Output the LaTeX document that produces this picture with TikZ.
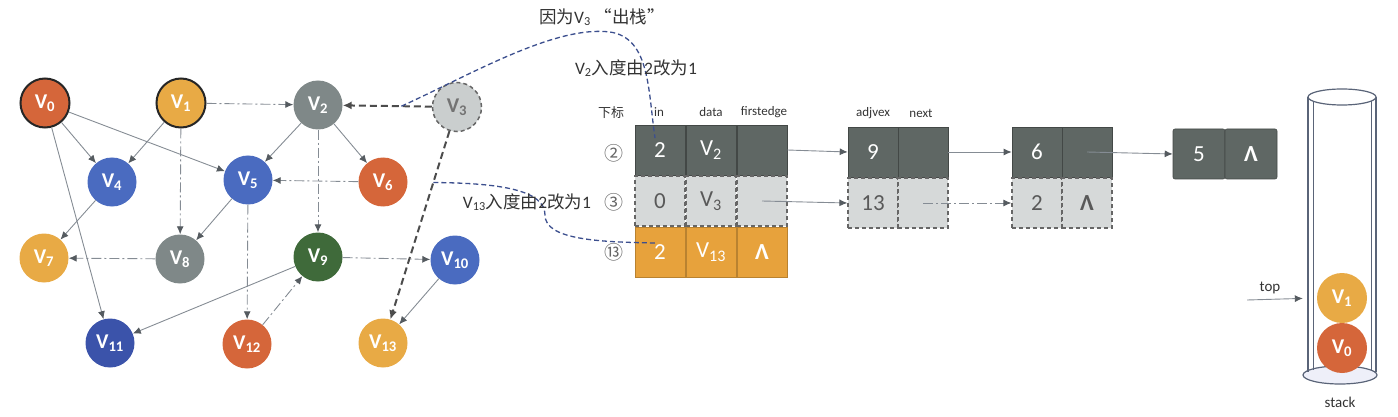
\documentclass[tikz,border=0pt]{standalone}
\usepackage{fontspec}
\setmainfont{Carlito}
\newfontfamily\cjk{Noto Sans CJK SC}
\usetikzlibrary{arrows.meta,calc}
\definecolor{vorange}{HTML}{D5663A}
\definecolor{vyellow}{HTML}{E8AA45}
\definecolor{vgray}{HTML}{7F8888}
\definecolor{vblue}{HTML}{4A6BC0}
\definecolor{vdblue}{HTML}{3B53AA}
\definecolor{vgreen}{HTML}{3F6A3A}
\definecolor{vlight}{HTML}{CACECE}
\definecolor{edgec}{HTML}{858C94}
\definecolor{tipc}{HTML}{555B60}
\definecolor{celldark}{HTML}{5F6764}
\definecolor{celllight}{HTML}{D6D9D9}
\definecolor{cellorange}{HTML}{E7A23C}
\definecolor{annot}{HTML}{3C4F8E}
\definecolor{txt}{HTML}{333333}
\definecolor{tube}{HTML}{5A6478}
\newcommand{\vlab}[1]{V\textsubscript{#1}}
\newcommand{\nullmark}{\textbf{Λ}}
\begin{document}
\begin{tikzpicture}[x=1pt,y=-1pt,
  vtx/.style={circle, minimum size=49pt, inner sep=0pt, text=white,
    font=\fontsize{21}{21}\selectfont\bfseries},
  edge/.style={draw=edgec, line width=0.9pt, -{Latex[length=8pt,width=7pt,color=tipc]}},
  dd/.style={dash pattern=on 10pt off 3pt on 2pt off 3pt},
  tdash/.style={draw=black!70, line width=2pt, dash pattern=on 7pt off 4pt,
    -{Latex[length=9pt,width=8pt]}},
  annotline/.style={draw=annot, line width=1.3pt, dash pattern=on 5pt off 3pt},
  cell/.style={rectangle, minimum width=50pt, minimum height=50pt, inner sep=0pt,
    font=\fontsize{23}{23}\selectfont},
  darkcell/.style={cell, fill=celldark, draw=celldark!70!black, line width=0.6pt, text=white},
  lightcell/.style={cell, fill=celllight, draw=black!60, line width=1.3pt,
    dash pattern=on 4pt off 3pt, text=black!65},
  orcell/.style={cell, fill=cellorange, draw=cellorange!80!black, line width=0.6pt, text=white},
  hdr/.style={font=\fontsize{13}{13}\selectfont, text=txt},
  lbl/.style={font=\fontsize{17.5}{17.5}\selectfont, text=txt},
  circnum/.style={font=\cjk\fontsize{19}{19}\selectfont, text=black!60}
]
\useasboundingbox (0,0) rectangle (1398,417);

% ---------- graph vertices ----------
\node[vtx, fill=vorange, draw=black!85, line width=2pt] (v0) at (45,103) {\vlab{0}};
\node[vtx, fill=vyellow, draw=black!85, line width=2pt] (v1) at (181,103) {\vlab{1}};
\node[vtx, fill=vgray] (v2) at (318,105) {\vlab{2}};
\node[vtx, fill=vlight, draw=black!60, dash pattern=on 4pt off 3pt, line width=1.5pt, text=black!55] (v3) at (457,107) {\vlab{3}};
\node[vtx, fill=vblue] (v4) at (112,182) {\vlab{4}};
\node[vtx, fill=vblue] (v5) at (248,180) {\vlab{5}};
\node[vtx, fill=vorange] (v6) at (383,182) {\vlab{6}};
\node[vtx, fill=vyellow] (v7) at (44,258) {\vlab{7}};
\node[vtx, fill=vgray] (v8) at (180,259) {\vlab{8}};
\node[vtx, fill=vgreen] (v9) at (318,257) {\vlab{9}};
\node[vtx, fill=vblue] (v10) at (455,260) {\vlab{10}};
\node[vtx, fill=vdblue] (v11) at (110,343) {\vlab{11}};
\node[vtx, fill=vorange] (v12) at (247,344) {\vlab{12}};
\node[vtx, fill=vyellow] (v13) at (383,343) {\vlab{13}};

% ---------- graph edges ----------
\draw[edge] (v0) -- (v4);
\draw[edge] (v0) -- (v5);
\draw[edge] (v0) -- (v11);
\draw[edge] (v1) -- (v4);
\draw[edge, dd] (v1) -- (v8);
\draw[edge, dd] (v1) -- (v2);
\draw[edge] (v2) -- (v5);
\draw[edge] (v2) -- (v6);
\draw[edge, dd] (v2) -- (v9);
\draw[edge] (v4) -- (v7);
\draw[edge] (v5) -- (v8);
\draw[edge, dd] (v5) -- (v12);
\draw[edge, dd] (v6) -- (v5);
\draw[edge, dd] (v8) -- (v7);
\draw[edge, dd] (v9) -- (v10);
\draw[edge] (v9) -- (v11);
\draw[edge] (v10) -- (v13);
\draw[edge, dd] (v12) -- (v9);
\draw[tdash] (v3) -- (v2);
\draw[tdash] (v3) -- (v13);

% ---------- vertex table ----------
\node[hdr] (h0) at (611,113) {\cjk 下标};
\node[hdr] (h1) at (659,112) {in};
\node[hdr] (h2) at (711,112) {data};
\node[hdr] (h3) at (764,112) {firstedge};

\node[darkcell] (in1) at (660,150) {2};
\node[darkcell] (da1) at (711,150) {\vlab{2}};
\node[darkcell] (fe1) at (762,150) {};
\node[orcell] (in3) at (660,252) {2};
\node[orcell] (da3) at (711,252) {\vlab{13}};
\node[orcell] (fe3) at (762,252) {\nullmark};
\node[lightcell] (in2) at (660,201) {0};
\node[lightcell] (da2) at (711,201) {\vlab{3}};
\node[lightcell] (fe2) at (762,201) {};

\node[circnum] (r1) at (614,153) {②};
\node[circnum] (r2) at (614,202) {③};
\node[circnum] (r3) at (614,252) {⑬};

% ---------- edge lists ----------
\node[hdr] (h4) at (873,113) {adjvex};
\node[hdr] (h5) at (921,113) {next};

\node[darkcell] (n9) at (873,152) {9};
\node[darkcell] (n9x) at (923,152) {};
\node[lightcell] (n13) at (873,203) {13};
\node[lightcell] (n13x) at (923,203) {};
\node[darkcell] (n6) at (1037,152) {6};
\node[darkcell] (n6x) at (1087,152) {};
\node[lightcell] (n2) at (1037,203) {2};
\node[lightcell] (n2x) at (1087,203) {\nullmark};
\node[darkcell, minimum width=52pt, rounded corners=2pt] (n5) at (1199,154) {5};
\node[darkcell, minimum width=52pt, rounded corners=2pt] (n5x) at (1251,154) {\nullmark};

\draw[edge] (fe1.east) -- (n9.west);
\draw[edge] (fe2.center) -- (n13.west);
\draw[edge] (n9x.east) -- (n6.west);
\draw[edge, dd] (n13x.center) -- (n2.west);
\draw[edge] (n6x.center) -- (n5.west);

% ---------- annotations ----------
\coordinate (br1) at ($(v3)!0.4!(v2)$);
\coordinate (br2) at ($(v3)!0.32!(v13)$);
\coordinate (end1) at (655,138);
\coordinate (end2) at (655,243);
\draw[annotline] (br1) .. controls (470,75) and (555,25) .. (610,32)
  .. controls (650,38) and (648,90) .. (end1);
\draw[annotline] (br2) .. controls (500,183) and (545,190) .. (545,215)
  .. controls (545,240) and (600,242) .. (end2);

\node[lbl] (t1) at (602,17) {{\cjk 因为}\vlab{3} {\cjk “出栈”}};
\node[lbl] (t2) at (636,68) {\vlab{2}{\cjk 入度由}2{\cjk 改为}1};
\node[lbl] (t3) at (527,202) {\vlab{13}{\cjk 入度由}2{\cjk 改为}1};

% ---------- stack ----------
\fill[celllight!80!blue!20] (1340,375) ellipse [x radius=37, y radius=9];
\draw[tube, line width=1.2pt] (1340,375) ellipse [x radius=37, y radius=9];
\draw[tube, line width=1.2pt] (1308,97) -- (1308,372);
\draw[tube, line width=0.8pt] (1313,100) -- (1313,370);
\draw[tube, line width=1.2pt] (1376,97) -- (1376,372);
\draw[tube, line width=0.8pt] (1371,100) -- (1371,370);
\draw[tube, line width=1.2pt, fill=white] (1342,97) ellipse [x radius=34, y radius=8];
\node[vtx, fill=vyellow, minimum size=50pt] (s1) at (1342,298) {\vlab{1}};
\node[vtx, fill=vorange, minimum size=50pt] (s0) at (1342,348) {\vlab{0}};
\node[hdr, font=\fontsize{15}{15}\selectfont] (toplbl) at (1270,288) {top};
\coordinate (topstart) at (1247,300);
\draw[edge, shorten >=14pt] (topstart) -- (s1.west);
\node[hdr, font=\fontsize{15}{15}\selectfont] (stk) at (1340,402) {stack};
\end{tikzpicture}
\end{document}
